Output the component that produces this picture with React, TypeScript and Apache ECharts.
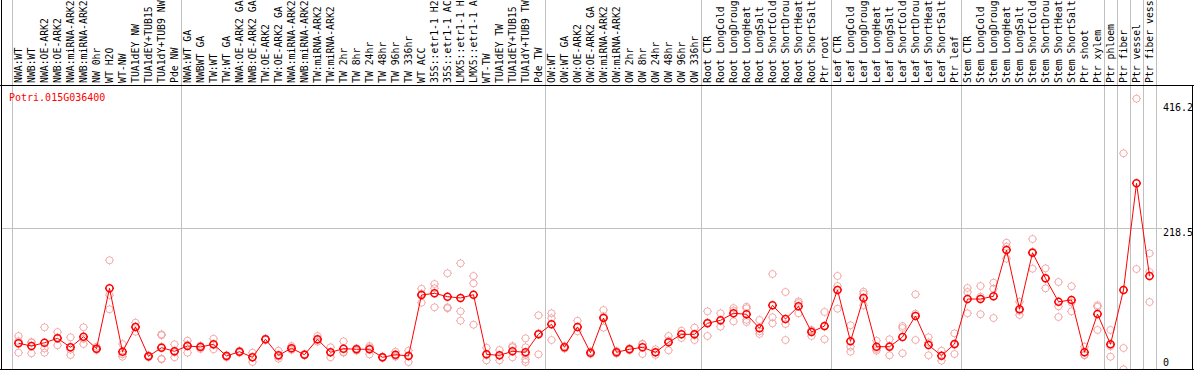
import React, { useEffect, useRef } from "react";
import * as echarts from "echarts";

const geneId = "Potri.015G036400";

// category labels as far as they are visible in the reference (the long ones run off the top)
const categories: string[] = [
  "NWA:WT", "NWB:WT", "NWA:OE-ARK2", "NWB:OE-ARK2", "NWA:miRNA-ARK2", "NWB:miRNA-ARK2",
  "NW 0hr", "WT H2O", "WT-NW", "TUA1dEY NW", "TUA1dEY+TUB15", "TUA1dY+TUB9 NW", "Pde NW",
  "NWA:WT GA", "NWBWT GA", "TW:WT", "TW:WT GA", "NWA:OE-ARK2 GA", "NWB:OE-ARK2 GA",
  "TW:OE-ARK2", "TW:OE-ARK2 GA", "NWA:miRNA-ARK2", "NWB:miRNA-ARK2", "TW:miRNA-ARK2",
  "TW:miRNA-ARK2", "TW 2hr", "TW 8hr", "TW 24hr", "TW 48hr", "TW 96hr", "TW 336hr", "WT ACC",
  "35S::etr1-1 H2", "35S::etr1-1 AC", "LMX5::etr1-1 H", "LMX5::etr1-1 A", "WT-TW",
  "TUA1dEY TW", "TUA1dEY+TUB15", "TUA1dY+TUB9 TW", "Pde TW",
  "OW:WT", "OW:WT GA", "OW:OE-ARK2", "OW:OE-ARK2 GA", "OW:miRNA-ARK2", "OW:miRNA-ARK2",
  "OW 2hr", "OW 8hr", "OW 24hr", "OW 48hr", "OW 96hr", "OW 336hr",
  "Root CTR", "Root LongCold", "Root LongDroug", "Root LongHeat", "Root LongSalt",
  "Root ShortCold", "Root ShortDrou", "Root ShortHeat", "Root ShortSalt", "Ptr root",
  "Leaf CTR", "Leaf LongCold", "Leaf LongDroug", "Leaf LongHeat", "Leaf LongSalt",
  "Leaf ShortCold", "Leaf ShortDrou", "Leaf ShortHeat", "Leaf ShortSalt", "Ptr leaf",
  "Stem CTR", "Stem LongCold", "Stem LongDroug", "Stem LongHeat", "Stem LongSalt",
  "Stem ShortCold", "Stem ShortDrou", "Stem ShortHeat", "Stem ShortSalt", "Ptr shoot",
  "Ptr xylem", "Ptr phloem", "Ptr fiber", "Ptr vessel", "Ptr fiber vess",
];

const means: number[] = [
  43.7, 39.6, 44.6, 51.3, 37.6, 53.7, 35.5, 127.4, 30.9, 68.5,
  23.9, 37.0, 31.5, 39.6, 38.1, 42.2, 24.4, 30.9, 22.4, 49.8,
  25.4, 36.1, 26.3, 49.8, 30.0, 35.5, 34.6, 34.6, 22.4, 26.3,
  24.4, 117.2, 119.8, 114.7, 112.7, 117.7, 26.9, 25.4, 31.5, 30.0,
  57.4, 72.6, 37.6, 68.5, 29.4, 82.2, 30.0, 34.6, 37.6, 30.0,
  45.2, 57.4, 57.4, 74.2, 78.7, 89.4, 87.9, 66.5, 101.6, 80.7,
  100.0, 60.9, 70.0, 124.9, 46.7, 112.7, 38.5, 38.5, 53.3, 85.3,
  41.1, 24.8, 42.6, 111.1, 111.1, 115.3, 185.8, 95.5, 181.6, 142.7,
  107.0, 109.6, 30.0, 88.3, 42.2, 124.9, 287.3, 146.2,
];

const replicates: number[][] = [
  [54.8, 29.4, 47], [44.6, 28.5, 45.7], [68.1, 29.4, 36], [60.9, 40.7, 52.3],
  [52.8, 25.9, 34], [68.1, 42.6, 50.5], [38.5, 34.6, 33.5], [170.1, 95.5, 117.2],
  [42.6, 23.3, 27], [75.1, 61.4, 69], [25.4, 22.4, 24], [57.4, 55.9, 38.5, 20.3, 19.3],
  [42.2, 22.4, 30], [47.7, 29.4, 41.7], [39.6, 35, 39.7], [50.7, 34.6, 41.3],
  [25.4, 22.4, 25.3], [32.4, 29.4, 31], [29.4, 15.2, 22.6], [50.7, 48.7, 50],
  [32.4, 20.3, 23.5], [39.6, 33.5, 35.2], [27.4, 25.4, 26], [54.8, 46.1, 48.5],
  [37.6, 22.4, 30], [46.7, 29.4, 30.4], [36.1, 32.4, 35.3], [39.6, 26.9, 37.3],
  [23.3, 21.3, 22.6], [30.9, 23.3, 24.7], [32.4, 15.2, 25.6], [126.8, 105.5, 119.3],
  [134, 98.5, 127.4], [150.3, 98.5, 97], [165.5, 92.4, 78.1], [146.2, 135, 72],
  [37, 17.8, 26], [33.5, 17.8, 25], [39.6, 37.6, 22.4], [51.3, 37.6, 15.2, 19.3, 26.3],
  [86.3, 26.9, 59], [89.4, 82, 48.7], [39.6, 35.6], [78, 62],
  [27.4, 31.5], [94.4, 67.5, 84.6], [32, 28], [36.1, 33],
  [42.6, 27.4, 42.8], [25.9, 34.6, 29.5], [54.8, 33, 47.8], [62.9, 51.8, 57.5],
  [67.5, 48.7, 56], [92.4, 54.8, 75.4], [89.4, 69, 77.7], [97.4, 77.2, 93.6],
  [99.4, 97, 76.1, 79.5], [79.2, 57.9, 62], [149.2, 83.3, 74.2], [121.8, 73, 48.7],
  [107.6, 89.4, 105], [64, 54.8, 63], [91.4, 49.8, 69], [146.2, 130.9, 96.4],
  [71.1, 38.5, 30.9], [122.3, 118.8, 101.6], [47.7, 32.4, 35], [49.8, 25.4, 40],
  [70, 67, 28.5], [118.3, 48.7, 88.8], [52.8, 25.4, 45], [32.4, 17.2, 24.8],
  [58.9, 27.4, 41.5], [127.9, 121.8, 89.4], [130.9, 114.6, 87.9], [136, 126.8, 82.2],
  [196.9, 190.8, 172.5], [107, 86.8, 93], [202.5, 183.2, 157.3], [157.9, 127.4, 142],
  [137, 83.7, 100], [130.5, 92.4, 106], [38.5, 25.9, 25.7], [101.6, 99.4, 64],
  [64, 23.3, 39.3], [333, 36.5, 4.1], [416.2, 156.8], [180.7, 106.6, 152.3],
];

// group separators: category indices that start a new group
const groupStarts: number[] = [0, 13, 41, 53, 63, 73, 84, 85, 86, 87];
const scaleLabels: string[] = ["416.2", "218.5", "0"];
const refLine = 218.5;

const FONT = "DejaVu Sans Mono";
const MARKER =
  "path://M0,-4.5L0,-3.5M0,3.5L0,4.5M-4.5,0L-3.5,0M3.5,0L4.5,0M3.5,0A3.5,3.5,0,1,1,-3.5,0A3.5,3.5,0,1,1,3.5,0";
const GRAY = "#c0c0c0";

export default function App() {
  const ref = useRef<HTMLDivElement>(null);
  useEffect(() => {
    const chart = echarts.init(ref.current!, null, { renderer: "svg" });
    const yMax = 2 * refLine;
    const repData = replicates.flatMap((r, i) => r.map((v) => [i, v]));
    const labelY = [107, 232, 362];
    const sepLine = {
      show: true,
      interval: (i: number) => groupStarts.includes(i),
      lineStyle: { color: GRAY, width: 1 },
    };
    const hiddenAxisParts = {
      axisLine: { show: false },
      axisTick: { show: false },
      axisLabel: { show: false },
    };
    const gridBase = { containLabel: false, outerBoundsMode: "none" };
    chart.setOption({
      animation: false,
      backgroundColor: "#ffffff",
      title: {
        text: geneId,
        left: 9,
        top: 92,
        padding: 0,
        textStyle: { color: "#ff0000", fontSize: 10, fontFamily: FONT, fontWeight: "normal", lineHeight: 10 },
      },
      grid: [
        { ...gridBase, left: 12, top: 85, width: 1144, height: 287 },
        { ...gridBase, left: 1, top: 85, width: 1161, height: 287 },
        { ...gridBase, left: 12, top: 0, width: 1144, height: 85 },
      ],
      xAxis: [
        {
          type: "category",
          gridIndex: 0,
          data: categories,
          position: "top",
          boundaryGap: true,
          axisLine: { show: false },
          axisTick: { show: false },
          axisLabel: {
            rotate: 90,
            interval: 0,
            margin: 2,
            fontSize: 9.8,
            fontFamily: FONT,
            color: "#000000",
            hideOverlap: false,
          },
          splitLine: sepLine,
        },
        { type: "value", gridIndex: 1, min: 0, max: 1, show: false },
        {
          type: "category",
          gridIndex: 2,
          data: categories,
          boundaryGap: true,
          ...hiddenAxisParts,
          splitLine: sepLine,
        },
      ],
      yAxis: [
        {
          type: "value",
          gridIndex: 0,
          min: 0,
          max: yMax,
          interval: refLine,
          ...hiddenAxisParts,
          splitLine: { show: false },
        },
        {
          type: "value",
          gridIndex: 1,
          min: 0,
          max: yMax,
          interval: refLine,
          ...hiddenAxisParts,
          splitLine: { show: true, showMinLine: false, showMaxLine: false, lineStyle: { color: GRAY, width: 1 } },
        },
        { type: "value", gridIndex: 2, min: 0, max: 1, show: false, splitLine: { show: false } },
      ],
      series: [
        {
          type: "scatter",
          xAxisIndex: 0,
          yAxisIndex: 0,
          data: repData,
          symbol: MARKER,
          symbolSize: 9,
          itemStyle: { color: "rgba(0,0,0,0)", borderColor: "#f29a9a", borderWidth: 1 },
          z: 3,
          silent: true,
        },
        {
          type: "line",
          xAxisIndex: 0,
          yAxisIndex: 0,
          data: means,
          symbol: MARKER,
          symbolSize: 9,
          showAllSymbol: true,
          lineStyle: { color: "#ff0000", width: 1 },
          itemStyle: { color: "rgba(0,0,0,0)", borderColor: "#ff0000", borderWidth: 1.5 },
          z: 4,
          silent: true,
        },
      ],
      graphic: [
        { type: "line", z: 100, shape: { x1: 0, y1: 85.5, x2: 1194, y2: 85.5 }, style: { stroke: "#000", lineWidth: 1 } },
        { type: "line", z: 100, shape: { x1: 1.5, y1: 0, x2: 1.5, y2: 370 }, style: { stroke: "#000", lineWidth: 1 } },
        { type: "line", z: 100, shape: { x1: 0, y1: 369.5, x2: 1194, y2: 369.5 }, style: { stroke: "#000", lineWidth: 1 } },
        { type: "line", z: 100, shape: { x1: 1192.5, y1: 85, x2: 1192.5, y2: 370 }, style: { stroke: "#000", lineWidth: 1 } },
        ...scaleLabels.map((t, i) => ({
          type: "text",
          z: 99,
          x: 1163,
          y: labelY[i],
          style: { text: t, fill: "#000", font: `10px '${FONT}'`, textAlign: "left", textVerticalAlign: "middle" },
        })),
      ],
    });
    return () => chart.dispose();
  }, []);
  return (
    <div
      ref={ref}
      style={{ position: "absolute", left: 0, top: 0, width: 1194, height: 370, background: "#fff" }}
    />
  );
}
